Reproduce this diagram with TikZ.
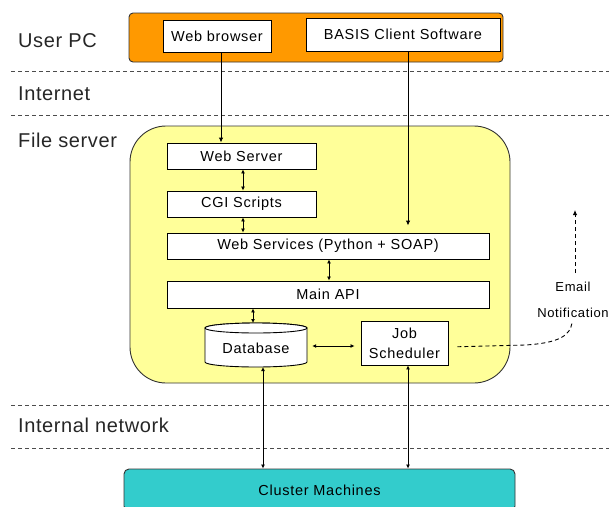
\documentclass[tikz,border=0pt]{standalone}
\usepackage{fontspec}
\setmainfont{Liberation Sans}
\newfontfamily\lblfont[LetterSpace=3]{Liberation Sans}
\newfontfamily\boxfont[LetterSpace=5]{Liberation Sans}
\usetikzlibrary{arrows.meta}
\definecolor{pcorange}{HTML}{FF9900}
\definecolor{srvyellow}{HTML}{FFFF99}
\definecolor{clteal}{HTML}{33CCCC}
\tikzset{
  zone/.style={anchor=base west, inner sep=0pt, font=\lblfont\fontsize{20}{24}\selectfont, text=black!85},
  sep/.style={draw=black!70, line width=0.9pt, dash pattern=on 4pt off 3pt},
  box/.style={draw=black, line width=0.9pt, fill=white, inner sep=0pt, font=\boxfont\fontsize{14.5}{20}\selectfont, align=center},
  tip/.style={-{Latex[length=5pt,width=4.5pt]}},
  both/.style={{Latex[length=4pt,width=4pt]}-{Latex[length=4pt,width=4pt]}},
  link/.style={line width=0.9pt},
  note/.style={inner sep=0pt, font=\boxfont\fontsize{13}{16}\selectfont},
}
\begin{document}
\begin{tikzpicture}[x=1pt,y=-1pt]
\useasboundingbox (0,0) rectangle (609,506);

% zone separators
\draw[sep] (11,71) -- (609,71);
\draw[sep] (11,115) -- (609,115);
\draw[sep] (11,405) -- (609,405);
\draw[sep] (11,448) -- (609,448);

% zone labels
\node[zone] (lpc) at (18,47) {User PC};
\node[zone] (lnet) at (18,100) {Internet};
\node[zone] (lfs) at (18,147) {File server};
\node[zone] (lint) at (18,432) {Internal network};

% user PC
\node[draw=black!80, line width=0.9pt, fill=pcorange, rounded corners=4pt,
      minimum width=374, minimum height=49, inner sep=0pt] (pc) at (316,37.5) {};
\node[box, minimum width=108, minimum height=32] (wb) at (217,36) {Web browser};
\node[box, minimum width=194, minimum height=33] (bc) at (403,34.5) {BASIS Client Software};

% file server
\node[draw=black!80, line width=0.9pt, fill=srvyellow, rounded corners=36pt,
      minimum width=380, minimum height=257, inner sep=0pt] (fs) at (320,254.5) {};
\node[box, minimum width=149, minimum height=26] (wsv) at (241.5,156) {Web Server};
\node[box, minimum width=149, minimum height=26] (cgi) at (241.5,204) {CGI Scripts};
\node[box, minimum width=322, minimum height=26] (wss) at (328,246) {Web Services (Python + SOAP)};
\node[box, minimum width=322, minimum height=27] (api) at (328,294.5) {Main API};
\node[box, minimum width=87, minimum height=44] (js) at (404.5,343) {Job\\Scheduler};

% database cylinder
\node[inner sep=0pt, minimum width=102, minimum height=44] (db) at (256,345) {};
\draw[line width=0.9pt, fill=white]
  (205,328) arc[start angle=180, end angle=360, x radius=51, y radius=5]
  -- (307,362) arc[start angle=0, end angle=180, x radius=51, y radius=5] -- cycle;
\draw[line width=0.9pt, fill=white] (256,328) ellipse[x radius=51, y radius=5];
\node[inner sep=0pt, font=\boxfont\fontsize{14.5}{20}\selectfont] at (256,348) {Database};

% cluster (runs off the bottom edge)
\begin{scope}
\clip (0,0) rectangle (609,506);
\node[overlay, draw=black!80, line width=0.9pt, fill=clteal, rounded corners=5pt,
      minimum width=391, minimum height=42, inner sep=0pt,
      font=\boxfont\fontsize{14.5}{20}\selectfont] (cm) at (319.5,490) {Cluster Machines};
\end{scope}

% connectors
\draw[link, tip] (wb.south -| 221,0) -- (wsv.north -| 221,0);
\draw[link, tip, shorten >=7pt] (bc.south -| 408,0) -- (wss.north -| 408,0);
\draw[link, both] (wsv.south -| 243,0) -- (cgi.north -| 243,0);
\draw[link, both] (cgi.south -| 243,0) -- (wss.north -| 243,0);
\draw[link, both] (wss.south -| 329,0) -- (api.north -| 329,0);
\draw[link, both] (api.south -| 253,0) -- (253,323);
\draw[link, both, shorten <=5pt, shorten >=6pt] (db.east |- 0,346) -- (js.west |- 0,346);
\draw[link, both] (263,367) -- (cm.north -| 263,0);
\draw[link, both] (js.south -| 408,0) -- (cm.north -| 408,0);

% e-mail notification
\coordinate (ntail) at (572,323);
\coordinate (nup) at (575,273);
\coordinate (ntop) at (575,210);
\draw[line width=0.9pt, dash pattern=on 4pt off 3pt, shorten <=9pt]
  (js.east |- 0,347) -- (525,345) .. controls (560,343) and (570,335) .. (ntail);
\draw[line width=0.9pt, dash pattern=on 4pt off 3pt, tip] (nup) -- (ntop);
\node[note] (em) at (573,287) {Email};
\node[note] (nf) at (573,313) {Notification};
\end{tikzpicture}
\end{document}
